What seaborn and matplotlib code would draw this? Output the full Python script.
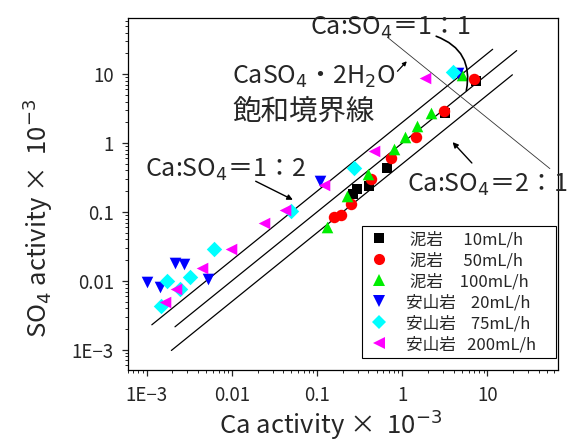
import numpy as np
import pandas as pd
import matplotlib
matplotlib.use("Agg")
import matplotlib.pyplot as plt
import seaborn as sns
from matplotlib.lines import Line2D
from matplotlib.ticker import FixedLocator, LogLocator, NullFormatter

# ---------------- data (×10^-3 activity) ----------------
mud10_ca = [0.267, 0.298, 0.402, 0.667, 3.15, 7.28]
mud10_so4 = [0.182, 0.212, 0.238, 0.434, 2.77, 7.84]

mud50_ca = [0.156, 0.193, 0.247, 0.424, 0.728, 1.45, 3.12, 7.03]
mud50_so4 = [0.0847, 0.0905, 0.131, 0.301, 0.600, 1.23, 2.93, 8.38]

mud100_ca = [0.131, 0.227, 0.391, 0.791, 1.08, 1.47, 2.19, 4.96]
mud100_so4 = [0.060, 0.169, 0.355, 0.818, 1.22, 1.75, 2.77, 9.7]

and20_ca = [1.0e-3, 1.45e-3, 2.18e-3, 2.76e-3, 5.3e-3, 0.109, 4.48]
and20_so4 = [9.7e-3, 8.2e-3, 0.0184, 0.0173, 0.0107, 0.281, 10.3]

and75_ca = [1.47e-3, 1.71e-3, 2.47e-3, 3.19e-3, 6.24e-3, 0.0499, 0.271, 3.96]
and75_so4 = [4.3e-3, 9.8e-3, 7.6e-3, 0.0115, 0.0289, 0.103, 0.434, 10.9]

and200_ca = [1.66e-3, 2.21e-3, 4.48e-3, 9.8e-3, 0.0236, 0.0424, 0.121, 0.463, 1.83]
and200_so4 = [4.9e-3, 7.6e-3, 0.0154, 0.0289, 0.068, 0.108, 0.249, 0.778, 8.67]

series_labels = [" 泥岩　 10mL/h", " 泥岩　 50mL/h", " 泥岩　100mL/h",
                 "安山岩    20mL/h", "安山岩    75mL/h", "安山岩   200mL/h"]
series_colors = ["#000000", "#ff0000", "#00ee00", "#0000ff", "#00ffff", "#ff00ff"]
series_markers = ["s", "o", "^", "v", "D", "<"]
series_sizes = [55, 68, 70, 70, 62, 70]

# ratio lines Ca:SO4 = 1:2, 1:1, 2:1  (SO4 = ratio * Ca)
ratio_values = [2.0, 1.0, 0.5]
ratio_x_start = [1.15e-3, 2.15e-3, 1.95e-3]
ratio_x_end = [11.5, 22.0, 19.6]

# gypsum saturation boundary  Ca * SO4 = const
sat_product = 23.0
sat_x = [0.67, 54.0]

x_ticks = [1e-3, 0.01, 0.1, 1, 10]
x_tick_labels = ["1E\u22123", "0.01", "0.1", "1", "10"]
y_ticks = [1e-3, 0.01, 0.1, 1, 10]
y_tick_labels = ["1E\u22123", "0.01", "0.1", "1", "10"]

# ---------------- build table ----------------
ca_all = [mud10_ca, mud50_ca, mud100_ca, and20_ca, and75_ca, and200_ca]
so4_all = [mud10_so4, mud50_so4, mud100_so4, and20_so4, and75_so4, and200_so4]
frames = []
for lab, ca, so in zip(series_labels, ca_all, so4_all):
    frames.append(pd.DataFrame({"Ca": ca, "SO4": so, "series": lab}))
df = pd.concat(frames, ignore_index=True)

# ---------------- style ----------------
sns.set_theme(style="ticks")
plt.rcParams["font.family"] = ["Noto Sans CJK JP", "DejaVu Sans"]
plt.rcParams["mathtext.fontset"] = "dejavusans"
plt.rcParams["axes.unicode_minus"] = False

fig = plt.figure(figsize=(5.86, 4.44), dpi=100)
ax = fig.add_axes([0.218, 0.167, 0.734, 0.792])
ax.set_xscale("log")
ax.set_yscale("log")
ax.set_xlim(6.0e-4, 67)
ax.set_ylim(5.1e-4, 65)

# reference lines
for r, xs, xe in zip(ratio_values, ratio_x_start, ratio_x_end):
    xx = np.array([xs, xe])
    ax.plot(xx, r * xx, color="black", lw=0.9, zorder=2)
sx = np.array(sat_x)
ax.plot(sx, sat_product / sx, color="#333333", lw=0.6, zorder=2)

# points
for lab, col, mk, sz in zip(series_labels, series_colors, series_markers, series_sizes):
    sub = df[df["series"] == lab]
    sns.scatterplot(data=sub, x="Ca", y="SO4", ax=ax, color=col, marker=mk,
                    s=sz, linewidth=0, legend=False, zorder=3)

# axes formatting
ax.xaxis.set_major_locator(FixedLocator(x_ticks))
ax.set_xticklabels(x_tick_labels)
ax.yaxis.set_major_locator(FixedLocator(y_ticks))
ax.set_yticklabels(y_tick_labels)
ax.xaxis.set_minor_locator(LogLocator(base=10, subs=np.arange(2, 10)))
ax.yaxis.set_minor_locator(LogLocator(base=10, subs=np.arange(2, 10)))
ax.xaxis.set_minor_formatter(NullFormatter())
ax.yaxis.set_minor_formatter(NullFormatter())
ax.tick_params(which="major", direction="out", length=4, width=0.9, labelsize=13.5,
               top=False, right=False)
ax.tick_params(axis="x", which="major", pad=7)
ax.tick_params(axis="y", which="major", pad=6)
ax.tick_params(which="minor", direction="out", length=2.2, width=0.7, top=False, right=False)
for sp in ax.spines.values():
    sp.set_visible(True)
    sp.set_color("black")
    sp.set_linewidth(0.9)

ax.set_xlabel("Ca activity ×  10$^{-3}$", fontsize=18.5)
ax.set_ylabel("SO$_4$ activity ×  10$^{-3}$", fontsize=18.5)
ax.xaxis.set_label_coords(0.472, -0.108)
ax.yaxis.set_label_coords(-0.168, 0.432)

# annotations
afs = 18
ax.annotate("", xy=(0.0556, 0.144), xytext=(0.0178, 0.291),
            arrowprops=dict(arrowstyle="-|>", color="black", lw=1.0, mutation_scale=8))
ax.text(0.00095, 0.325, "Ca:SO$_4$＝1：2", fontsize=afs, ha="left", va="baseline")

ax.text(0.0834, 37.6, "Ca:SO$_4$＝1：1", fontsize=afs, ha="left", va="baseline")
ax.annotate("", xy=(5.56, 5.3), xytext=(2.33, 36.7),
            arrowprops=dict(arrowstyle="-", color="black", lw=1.2,
                            connectionstyle="arc3,rad=-0.45"))

ax.text(0.0101, 7.33, "CaSO$_4$・2H$_2$O", fontsize=afs, ha="left", va="baseline")
ax.text(0.0101, 2.85, "飽和境界線", fontsize=20.5, ha="left", va="center")
ax.annotate("", xy=(1.19, 16.5), xytext=(0.834, 10.3),
            arrowprops=dict(arrowstyle="-|>", color="black", lw=0.9, mutation_scale=6))

ax.text(1.124, 0.197, "Ca:SO$_4$＝2：1", fontsize=afs, ha="left", va="baseline")
ax.annotate("", xy=(3.70, 1.105), xytext=(6.9, 0.48),
            arrowprops=dict(arrowstyle="-|>", color="black", lw=1.0, mutation_scale=8))

# legend
handles = []
for lab, col, mk in zip(series_labels, series_colors, series_markers):
    ms = 7 if mk in ("s", "D") else 8
    handles.append(Line2D([], [], linestyle="none", marker=mk, color=col,
                          markeredgewidth=0, markersize=ms, label=lab))
leg = ax.legend(handles=handles, loc="upper left",
                bbox_to_anchor=(0.544, 0.0, 0.451, 0.409), mode="expand",
                fontsize=12, frameon=True, fancybox=False, framealpha=1,
                edgecolor="black", borderpad=0.3, labelspacing=0.24,
                handletextpad=0.85, borderaxespad=0, handlelength=1.5)
leg.get_frame().set_linewidth(0.8)

fig.savefig("out.png", dpi=100)
